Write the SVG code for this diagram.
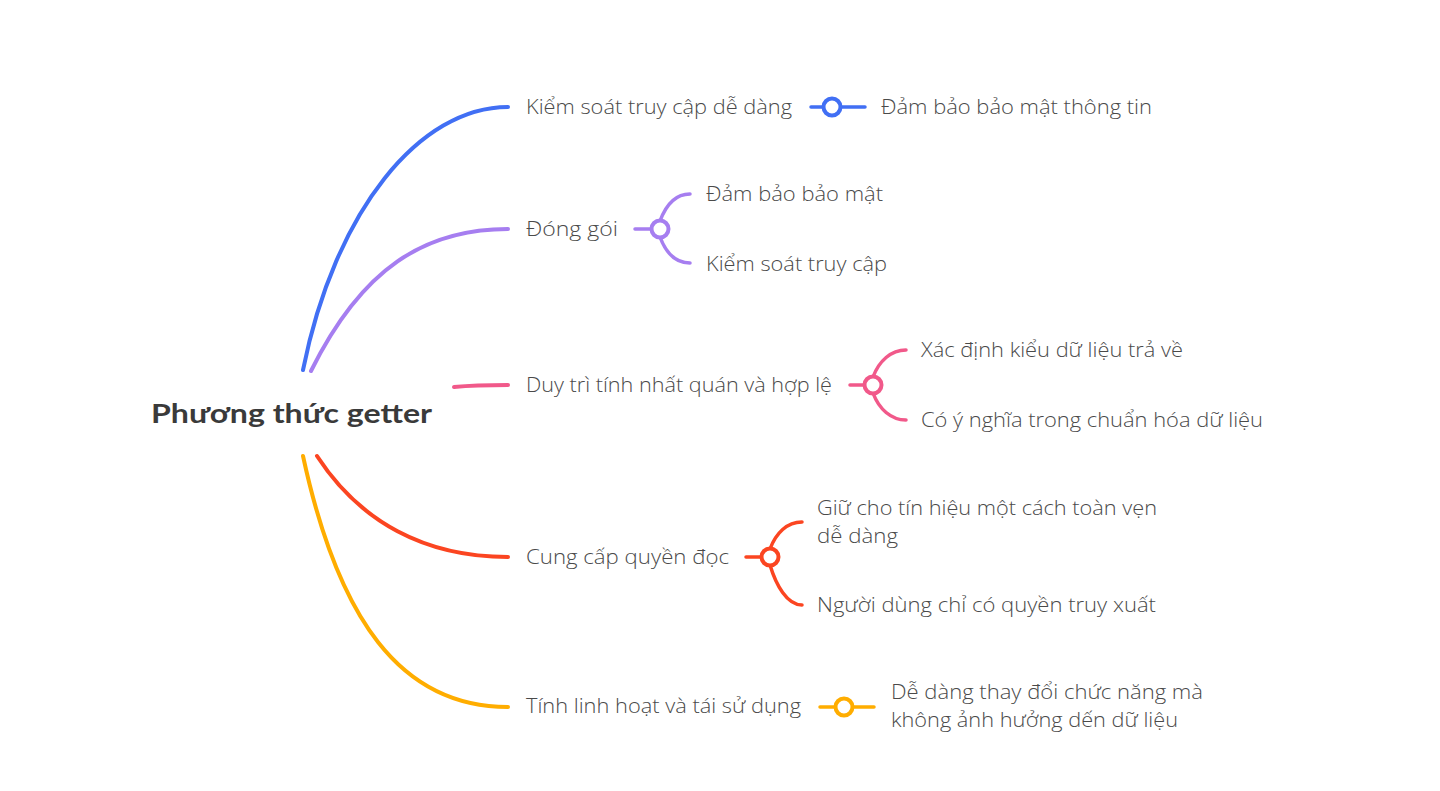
<svg xmlns="http://www.w3.org/2000/svg" width="1440" height="791" viewBox="0 0 1440 791">
<style>
.bg{fill:#ffffff}
.root{font-family:"Lato","Liberation Sans",sans-serif;font-weight:700;font-size:26px;fill:#3a3a3a}
.t{font-family:"Open Sans","Liberation Sans",sans-serif;font-weight:300;font-size:20px;fill:#4a4a4a}
.c{fill:none;stroke-width:4;stroke-linecap:round}
.s{fill:none;stroke-width:3.5;stroke-linecap:round}
.dot{fill:#ffffff;stroke-width:4}
.blue{stroke:#416ff4}
.purple{stroke:#a67ef0}
.pink{stroke:#f1598a}
.red{stroke:#fb4521}
.yellow{stroke:#ffad00}
</style>
<rect class="bg" x="0" y="0" width="1440" height="791"/>
<g id="connectors">
<path class="c blue" d="M303,370 C335,210 420,107 508,107"/>
<path class="c purple" d="M311,371 C362,268 425,229 508,229"/>
<path class="c pink" d="M454,387 C475,385 490,385 508,385"/>
<path class="c red" d="M317,456 C360,522 425,557 508,557"/>
<path class="c yellow" d="M303,456 C338,618 400,707 508,707"/>
<path class="s blue" d="M811,107 L865,107"/>
<path class="s purple" d="M635,229 L652,229 M660,221 C666,205 676,194 690,194 M660,237 C666,253 676,263 690,263"/>
<path class="s pink" d="M850,385 L865,385 M873,377 C879,361 891,350 906,350 M873,393 C879,409 891,420 906,420"/>
<path class="s red" d="M746,557 L762,557 M770,549 C776,533 787,522 802,522 M770,565 C776,585 787,605 802,605"/>
<path class="s yellow" d="M820,707 L874,707"/>
<circle class="dot blue" cx="832" cy="107" r="8.5"/>
<circle class="dot purple" cx="660" cy="229" r="8.5"/>
<circle class="dot pink" cx="873" cy="385" r="8.5"/>
<circle class="dot red" cx="770" cy="557" r="8.5"/>
<circle class="dot yellow" cx="844" cy="707" r="8.5"/>
</g>
<g id="root"><text class="root" x="151" y="423" textLength="281" lengthAdjust="spacingAndGlyphs">Phương thức getter</text></g>
<g id="n1"><text class="t" x="526" y="114" textLength="266" lengthAdjust="spacingAndGlyphs">Kiểm soát truy cập dễ dàng</text></g>
<g id="n1a"><text class="t" x="881" y="114" textLength="271" lengthAdjust="spacingAndGlyphs">Đảm bảo bảo mật thông tin</text></g>
<g id="n2"><text class="t" x="526" y="236" textLength="92" lengthAdjust="spacingAndGlyphs">Đóng gói</text></g>
<g id="n2a"><text class="t" x="706" y="201" textLength="177" lengthAdjust="spacingAndGlyphs">Đảm bảo bảo mật</text></g>
<g id="n2b"><text class="t" x="706" y="271" textLength="181" lengthAdjust="spacingAndGlyphs">Kiểm soát truy cập</text></g>
<g id="n3"><text class="t" x="526" y="392" textLength="306" lengthAdjust="spacingAndGlyphs">Duy trì tính nhất quán và hợp lệ</text></g>
<g id="n3a"><text class="t" x="921" y="357" textLength="262" lengthAdjust="spacingAndGlyphs">Xác định kiểu dữ liệu trả về</text></g>
<g id="n3b"><text class="t" x="921" y="427" textLength="342" lengthAdjust="spacingAndGlyphs">Có ý nghĩa trong chuẩn hóa dữ liệu</text></g>
<g id="n4"><text class="t" x="526" y="564" textLength="203" lengthAdjust="spacingAndGlyphs">Cung cấp quyền đọc</text></g>
<g id="n4a"><text class="t" x="817" y="515" textLength="340" lengthAdjust="spacingAndGlyphs">Giữ cho tín hiệu một cách toàn vẹn</text><text class="t" x="817" y="543" textLength="81" lengthAdjust="spacingAndGlyphs">dễ dàng</text></g>
<g id="n4b"><text class="t" x="817" y="612" textLength="339" lengthAdjust="spacingAndGlyphs">Người dùng chỉ có quyền truy xuất</text></g>
<g id="n5"><text class="t" x="526" y="713" textLength="275" lengthAdjust="spacingAndGlyphs">Tính linh hoạt và tái sử dụng</text></g>
<g id="n5a"><text class="t" x="891" y="699" textLength="312" lengthAdjust="spacingAndGlyphs">Dễ dàng thay đổi chức năng mà</text><text class="t" x="891" y="727" textLength="287" lengthAdjust="spacingAndGlyphs">không ảnh hưởng dến dữ liệu</text></g>
</svg>
